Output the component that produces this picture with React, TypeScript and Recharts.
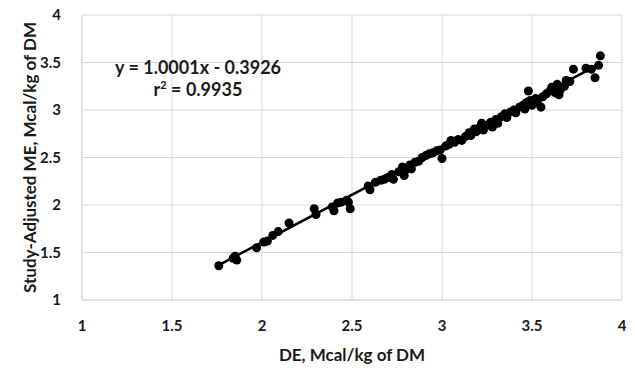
import {
  CartesianGrid,
  Label,
  Scatter,
  ScatterChart,
  XAxis,
  YAxis,
  ZAxis,
} from "recharts";

// DE vs study-adjusted ME
const DE = [
  1.76, 1.84, 1.86, 1.85, 1.97, 2.01, 2.03, 2.06, 2.09, 2.15,
  2.29, 2.3, 2.39, 2.4, 2.42, 2.44, 2.47, 2.49, 2.48, 2.59,
  2.6, 2.63, 2.66, 2.68, 2.7, 2.72, 2.73, 2.76, 2.78, 2.79,
  2.8, 2.82, 2.83, 2.85, 2.87, 2.89, 2.91, 2.93, 2.95, 2.97,
  2.99, 3.0, 3.02, 3.04, 3.05, 3.07, 3.09, 3.11, 3.13, 3.15,
  3.16, 3.18, 3.19, 3.21, 3.22, 3.23, 3.25, 3.27, 3.28, 3.3,
  3.31, 3.33, 3.35, 3.36, 3.38, 3.4, 3.41, 3.43, 3.45, 3.46,
  3.47, 3.48, 3.49, 3.5, 3.52, 3.53, 3.55, 3.56, 3.58, 3.6,
  3.61, 3.63, 3.64, 3.65, 3.66, 3.68, 3.69, 3.71, 3.73, 3.8,
  3.83, 3.85, 3.87, 3.88,
];
const ME = [
  1.36, 1.44, 1.42, 1.46, 1.55, 1.61, 1.62, 1.68, 1.72, 1.81,
  1.96, 1.9, 1.98, 1.94, 2.02, 2.03, 2.05, 1.96, 2.03, 2.2,
  2.16, 2.24, 2.26, 2.27, 2.29, 2.32, 2.27, 2.35, 2.4, 2.31,
  2.37, 2.42, 2.38, 2.45, 2.46, 2.5, 2.52, 2.54, 2.55, 2.57,
  2.58, 2.49, 2.62, 2.64, 2.68, 2.66, 2.69, 2.68, 2.72, 2.76,
  2.73, 2.8, 2.77, 2.82, 2.86, 2.79, 2.84, 2.87, 2.82, 2.9,
  2.86, 2.93, 2.96, 2.92, 2.98, 3.0, 2.97, 3.03, 3.05, 3.01,
  3.08, 3.2, 3.1, 3.05, 3.12, 3.08, 3.03, 3.14, 3.17, 3.2,
  3.24, 3.18, 3.27, 3.16, 3.22, 3.25, 3.31, 3.3, 3.43, 3.44,
  3.43, 3.34, 3.47, 3.57,
];

// fitted line as printed on the chart
const SLOPE = 1.0001;
const INTERCEPT = -0.3926;
const FIT_X = [1.76, 3.83];

const TICKS = [1, 1.5, 2, 2.5, 3, 3.5, 4];

const points = DE.map((x, i) => ({ x, y: ME[i] }));
const fit = FIT_X.map((x) => ({ x, y: SLOPE * x + INTERCEPT }));

const font = "Lato, 'Open Sans', sans-serif";
const ink = "#1a1a1a";
const tickStyle = { fontSize: 15, fontWeight: 700, fill: ink, fontFamily: font };

export default function App() {
  return (
    <div style={{ position: "fixed", left: 0, top: 0, width: 635, height: 370, background: "#fff" }}>
      <ScatterChart width={635} height={370} margin={{ top: 15, right: 13, bottom: 0, left: 0 }}>
        <CartesianGrid stroke="#d9d9d9" />
        <XAxis
          type="number"
          dataKey="x"
          domain={[1, 4]}
          ticks={TICKS}
          height={70}
          tickLine={false}
          axisLine={{ stroke: "#d9d9d9" }}
          tickMargin={14}
          tick={tickStyle}
        >
          <Label
            value="DE, Mcal/kg of DM"
            position="insideBottom"
            offset={9}
            style={{ fontSize: 17, fontWeight: 700, fill: ink, fontFamily: font }}
          />
        </XAxis>
        <YAxis
          type="number"
          dataKey="y"
          domain={[1, 4]}
          ticks={TICKS}
          width={82}
          tickLine={false}
          axisLine={{ stroke: "#d9d9d9" }}
          tickMargin={15}
          tick={tickStyle}
        >
          <Label
            value="Study-Adjusted ME, Mcal/kg of DM"
            angle={-90}
            position="insideLeft"
            offset={30}
            style={{ textAnchor: "middle", fontSize: 17, fontWeight: 700, fill: ink, fontFamily: font }}
          />
        </YAxis>
        <ZAxis range={[80, 80]} />
        <Scatter data={points} fill="#000" isAnimationActive={false} />
        <Scatter
          data={fit}
          line={{ stroke: "#000", strokeWidth: 2.5 }}
          shape={() => <g />}
          isAnimationActive={false}
        />
      </ScatterChart>
      <div
        style={{
          position: "absolute",
          left: 88,
          top: 56,
          width: 220,
          textAlign: "center",
          fontFamily: font,
          fontWeight: 700,
          fontSize: 18,
          lineHeight: "22px",
          color: ink,
        }}
      >
        <div>y = 1.0001x - 0.3926</div>
        <div>
          r<sup style={{ fontSize: 11, verticalAlign: "7px", lineHeight: 0 }}>2</sup> = 0.9935
        </div>
      </div>
    </div>
  );
}
